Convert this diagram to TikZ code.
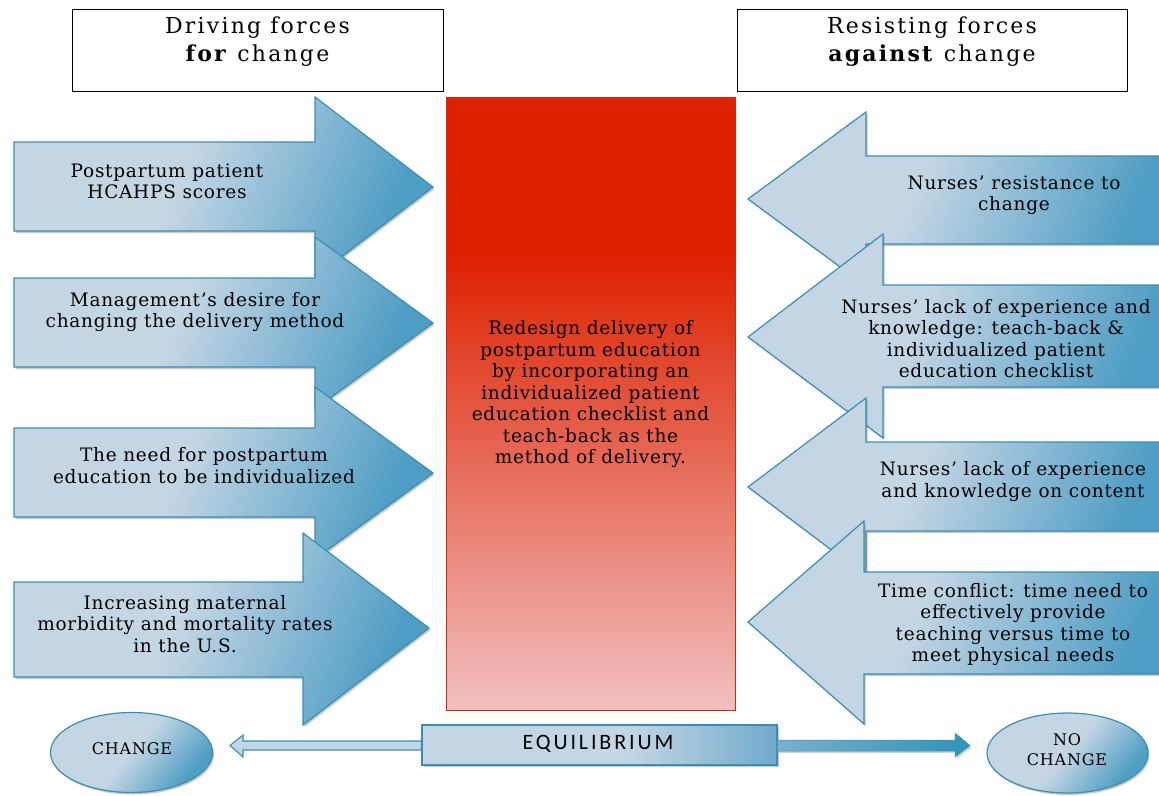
\documentclass[tikz,border=0pt]{standalone}
\usepackage{fontspec}
\setmainfont{DejaVu Serif}
\newfontfamily\bodyfont[LetterSpace=4]{DejaVu Serif}
\newfontfamily\hdfont[LetterSpace=10]{DejaVu Serif}
\newfontfamily\eqfont[LetterSpace=13]{Carlito}
\newfontfamily\elfont[LetterSpace=5]{DejaVu Serif}
\usetikzlibrary{shadows,shapes.geometric,calc}
\definecolor{lb}{RGB}{196,214,228}
\definecolor{db}{RGB}{78,157,196}
\definecolor{edge}{RGB}{58,142,180}
\definecolor{redt}{RGB}{221,34,0}
\definecolor{redb}{RGB}{208,40,10}
\definecolor{pinkb}{RGB}{241,192,192}
\definecolor{eqd}{RGB}{112,170,204}
\definecolor{arrA}{RGB}{120,176,206}
\definecolor{arrB}{RGB}{48,146,186}
\pgfdeclarehorizontalshading{bluesh}{100bp}{color(0bp)=(lb); color(44bp)=(lb); color(74bp)=(db); color(100bp)=(db)}
\pgfdeclarehorizontalshading{ellsh}{100bp}{color(0bp)=(lb); color(50bp)=(lb); color(74bp)=(db); color(100bp)=(db)}
\pgfdeclarehorizontalshading{eqsh}{100bp}{color(0bp)=(lb); color(54bp)=(lb); color(75bp)=(eqd); color(100bp)=(eqd)}
\pgfdeclarehorizontalshading{thicksh}{100bp}{color(0bp)=(arrA); color(25bp)=(arrA); color(75bp)=(arrB); color(100bp)=(arrB)}
\pgfdeclareverticalshading{redsh}{100bp}{color(0bp)=(pinkb); color(25bp)=(pinkb); color(62bp)=(redt); color(100bp)=(redt)}
\newcommand{\LeftBlockArrow}[7]{%
  \path[blockarrow] (14,#1) -- (#3,#1) -- (#3,#4) -- (#6,#7) -- (#3,#5) -- (#3,#2) -- (14,#2) -- cycle;}
\newcommand{\RightBlockArrow}[7]{%
  \path[blockarrow] (1170,#1) -- (#3,#1) -- (#3,#4) -- (#6,#7) -- (#3,#5) -- (#3,#2) -- (1170,#2) -- cycle;}
\tikzset{
  blockarrow/.style={draw=edge, line width=1.2pt, shade, shading=bluesh, shading angle=-22,
    drop shadow={shadow xshift=1.5pt, shadow yshift=-2pt, opacity=.3, fill=black!70}},
  lbl/.style={font=\bodyfont\fontsize{18.5}{21.5}\selectfont, align=center, text=black, inner sep=0pt},
  hdbox/.style={draw=black, line width=0.8pt, fill=white, minimum width=371pt, minimum height=82pt,
    inner sep=0pt, drop shadow={shadow xshift=1.3pt, shadow yshift=-1.3pt, opacity=.7, fill=black}},
  hdtext/.style={font=\hdfont\fontsize{22}{28.5}\selectfont, align=center, inner sep=0pt},
  ellnode/.style={ellipse, draw=edge, line width=1.2pt, shade, shading=ellsh, shading angle=-40,
    minimum width=162pt, minimum height=80pt, inner sep=0pt,
    drop shadow={shadow xshift=1.5pt, shadow yshift=-2pt, opacity=.3, fill=black!70}},
  elltext/.style={font=\elfont\fontsize{16}{20}\selectfont, align=center, inner sep=0pt},
}
\begin{document}
\begin{tikzpicture}[x=1pt, y=-1pt]
\useasboundingbox (0,0) rectangle (1159,795);
% headers
\node[hdbox] (hdL) at (257.5,50) {};
\node[hdtext] (hdLt) at (257.5,41.5) {Driving forces\\\textbf{for} change};
\node[hdbox, minimum width=390pt] (hdR) at (932,50) {};
\node[hdtext] (hdRt) at (932,41.5) {Resisting forces\\\textbf{against} change};
% centre
\path[shade, shading=redsh, draw=redb, line width=0.8pt] (446,97) rectangle (735,710);
\node[lbl] (goal) at (590.5,394.5) {Redesign delivery of\\postpartum education\\by incorporating an\\individualized patient\\education checklist and\\teach-back as the\\method of delivery.};
% driving forces
\LeftBlockArrow{142}{231}{315}{97}{277}{433}{187}
\node[lbl] (d1) at (167,181.5) {Postpartum patient\\HCAHPS scores};
\LeftBlockArrow{278}{367}{315}{237}{409}{433}{323}
\node[lbl] (d2) at (195,312) {Management’s desire for\\changing the delivery method};
\LeftBlockArrow{428}{517}{315}{387}{559}{433}{473}
\node[lbl] (d3) at (204,465.5) {The need for postpartum\\education to be individualized};
\LeftBlockArrow{582}{677}{303}{533}{725}{429}{628}
\node[lbl] (d4) at (185,624) {Increasing maternal\\morbidity and mortality rates\\in the U.S.};
% resisting forces
\RightBlockArrow{156}{244}{866}{112}{286}{748}{199}
\node[lbl] (r1) at (1014,195) {Nurses’ resistance to\\change};
\RightBlockArrow{285}{387}{883}{234}{438}{748}{337}
\node[lbl] (r2) at (996,338.5) {Nurses’ lack of experience and\\knowledge: teach-back \&\\individualized patient\\education checklist};
\RightBlockArrow{442}{531}{866}{398}{576}{748}{487}
\node[lbl] (r3) at (1013,481.5) {Nurses’ lack of experience\\and knowledge on content};
\RightBlockArrow{572}{674}{864}{521}{724}{748}{622}
\node[lbl] (r4) at (1013,624.5) {Time conflict: time need to\\effectively provide\\teaching versus time to\\meet physical needs};
% bottom
\node[ellnode] (chg) at (131.5,752.5) {};
\node[elltext] (chgt) at (132,749) {CHANGE};
\node[ellnode, minimum width=161pt] (nochg) at (1067.5,753) {};
\node[elltext] (nochgt) at (1067,750) {NO\\CHANGE};
\node[draw=edge, line width=1.2pt, shade, shading=eqsh, minimum width=355pt, minimum height=40pt, inner sep=0pt,
  drop shadow={shadow xshift=1.5pt, shadow yshift=-2pt, opacity=.3, fill=black!70}] (eq) at (599.5,745) {};
\node[font=\eqfont\fontsize{22}{24}\selectfont, inner sep=0pt] (eqt) at (598,743.5) {EQUILIBRIUM};
\path[draw=edge, line width=1.1pt, fill=lb]
  (eq.west |- 0,741) -- (243,741) -- (243,735) -- (230,745.5) -- (243,757) -- (243,750) -- (eq.west |- 0,750) -- cycle;
\path[shade, shading=thicksh, draw=arrB, line width=0.5pt,
  drop shadow={shadow xshift=1.5pt, shadow yshift=-2pt, opacity=.25, fill=black!70}]
  (eq.east |- 0,740) -- (955,740) -- (955,733) -- (970,745.5) -- (955,757) -- (955,751) -- (eq.east |- 0,751) -- cycle;
\end{tikzpicture}
\end{document}
